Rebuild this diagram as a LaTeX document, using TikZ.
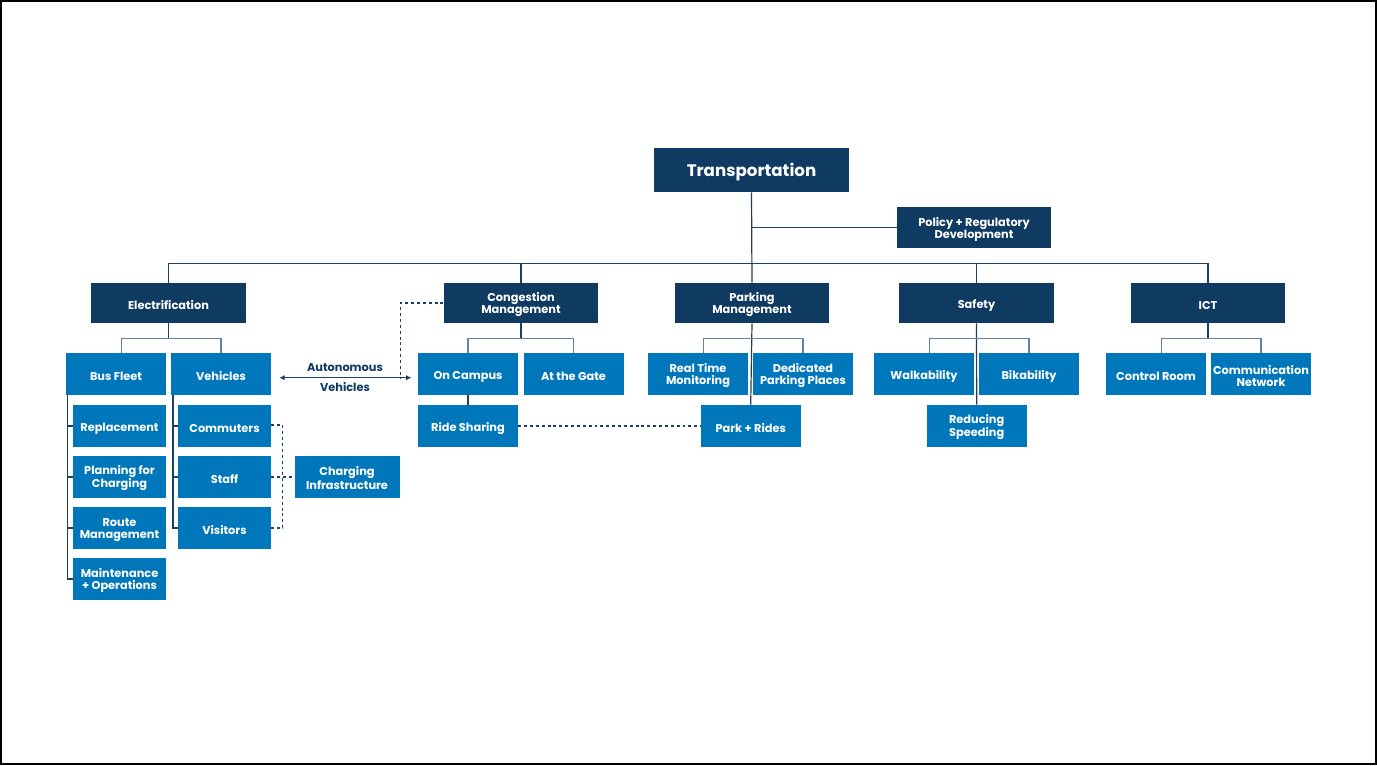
\documentclass[tikz,border=0pt]{standalone}
\usepackage{fontspec}
\setmainfont{Poppins}
\usetikzlibrary{arrows.meta}
\definecolor{navy}{HTML}{0F3A61}
\definecolor{azure}{HTML}{0077BA}
\definecolor{wire}{HTML}{1D3E66}
\definecolor{lightwire}{HTML}{6283A6}
\tikzset{
  head/.style={fill=navy, text=white, font=\fontsize{8.5}{9}\selectfont\bfseries, align=center,
    inner sep=0pt, minimum width=116pt, minimum height=30pt,
    execute at begin node={\rule{0pt}{10pt}}},
  leaf/.style={fill=azure, text=white, font=\fontsize{8.5}{9}\selectfont\bfseries, align=center,
    inner sep=0pt, minimum width=75pt, minimum height=31.5pt,
    execute at begin node={\rule{0pt}{10pt}}},
  twoline/.style={execute at begin node={}, text height=18.3pt},
  subleaf/.style={leaf, minimum width=70pt, minimum height=31pt},
  wirebox/.style={draw=wire, line width=0.9pt},
  elbow/.style={draw=lightwire, line width=0.9pt},
  dashwire/.style={draw=wire, line width=0.8pt, dash pattern=on 2.2pt off 2.2pt}
}
\begin{document}
\begin{tikzpicture}[x=0.75pt, y=-0.75pt]
    \useasboundingbox (0,0) rectangle (1377,765);
    \draw[line width=1.5pt] (1,1) rectangle (1376,764);
    % top
    \node[head, minimum width=146pt, minimum height=33pt, font=\fontsize{12.5}{14}\selectfont\bfseries,
      execute at begin node={\rule{0pt}{13.8pt}}] (trans) at (751.5,170) {Transportation};
    \node[head, twoline, minimum width=115.5pt, minimum height=30.75pt] (pol) at (974,227.5) {Policy + Regulatory\\Development};
    % level 1
    \node[head] (elec) at (168.5,303) {Electrification};
    \node[head, twoline] (cong) at (521,303) {Congestion\\Management};
    \node[head, twoline] (park) at (752,303) {Parking\\Management};
    \node[head] (safe) at (976.5,303) {Safety};
    \node[head] (ict) at (1208,303) {ICT};
    % level 2
    \node[leaf] (bus) at (116,374) {Bus Fleet};
    \node[leaf] (veh) at (221,374) {Vehicles};
    \node[leaf] (camp) at (468,374) {On Campus};
    \node[leaf] (gate) at (573.5,374) {At the Gate};
    \node[leaf, twoline] (rtm) at (698,374) {Real Time\\Monitoring};
    \node[leaf, twoline] (ded) at (803,374) {Dedicated\\Parking Places};
    \node[leaf] (walk) at (924,374) {Walkability};
    \node[leaf] (bike) at (1029,374) {Bikability};
    \node[leaf] (ctrl) at (1156,374) {Control Room};
    \node[leaf, twoline] (comm) at (1261,374) {Communication\\Network};
    % level 3
    \node[subleaf] (rep) at (119.5,426) {Replacement};
    \node[subleaf, twoline] (plan) at (119.5,477) {Planning for\\Charging};
    \node[subleaf, twoline] (route) at (119.5,528) {Route\\Management};
    \node[subleaf, twoline] (mnt) at (119.5,579) {Maintenance\\+ Operations};
    \node[subleaf] (cmt) at (224.5,426) {Commuters};
    \node[subleaf] (staff) at (224.5,477) {Staff};
    \node[subleaf] (vis) at (224.5,528) {Visitors};
    \node[leaf, twoline, minimum width=78.75pt] (chg) at (347,477) {Charging\\Infrastructure};
    \node[leaf] (ride) at (468,426) {Ride Sharing};
    \node[leaf] (pnr) at (750.7,426) {Park + Rides};
    \node[leaf, twoline] (spd) at (976.7,426) {Reducing\\Speeding};
    \node[text=navy, font=\fontsize{8.5}{9}\selectfont\bfseries] (auto1) at (345,368) {Autonomous};
    \node[text=navy, font=\fontsize{8.5}{9}\selectfont\bfseries] (auto2) at (345,387) {Vehicles};
    \coordinate (av) at (400.7,377.7);
    % connectors
    \draw[wirebox] (trans.south) -- (park.north);
    \draw[wirebox] (trans.south |- pol.west) -- (pol.west);
    \draw[wirebox] (elec.north) -- ++(0,-19) -| (ict.north);
    \draw[wirebox] (cong.north) -- ++(0,-19);
    \draw[wirebox] (safe.north) -- ++(0,-19);
    \draw[wirebox] (elec.south) -- ++(0,16);
    \draw[wirebox] (cong.south) -- ++(0,16);
    \draw[wirebox] (ict.south) -- ++(0,16);
    \draw[wirebox] (park.south) -- (pnr.north);
    \draw[wirebox] (safe.south) -- (spd.north);
    \draw[elbow] ([shift={(5.5,0)}]bus.north) -- ++(0,-14) -| (veh.north);
    \draw[elbow] (camp.north) -- ++(0,-14) -| (gate.north);
    \draw[elbow] ([shift={(5.5,0)}]rtm.north) -- ++(0,-14) -| (ded.north);
    \draw[elbow] ([shift={(5.5,0)}]walk.north) -- ++(0,-14) -| (bike.north);
    \draw[elbow] ([shift={(5.5,0)}]ctrl.north) -- ++(0,-14) -| (comm.north);
    \draw[wirebox] (camp.south) -- (ride.north);
    \draw[wirebox] ([shift={(1.8,0)}]bus.south west) |- (mnt.west);
    \draw[wirebox] ([shift={(1.8,0)}]bus.south west |- rep.west) -- (rep.west);
    \draw[wirebox] ([shift={(1.8,0)}]bus.south west |- plan.west) -- (plan.west);
    \draw[wirebox] ([shift={(1.8,0)}]bus.south west |- route.west) -- (route.west);
    \draw[wirebox] ([shift={(2.3,0)}]veh.south west) |- (vis.west);
    \draw[wirebox] ([shift={(2.3,0)}]veh.south west |- cmt.west) -- (cmt.west);
    \draw[wirebox] ([shift={(2.3,0)}]veh.south west |- staff.west) -- (staff.west);
    \draw[wirebox, line width=0.8pt, {Latex[length=4pt,width=4pt]}-{Latex[length=4pt,width=4pt]}] ([shift={(8,3.7)}]veh.east) -- ([shift={(-6.3,3.7)}]camp.west);
    \draw[dashwire] (cong.west) -| (av);
    \draw[dashwire] ([shift={(0,-1)}]cmt.east) -| ([shift={(11.3,0)}]vis.east) -- (vis.east);
    \draw[dashwire] (staff.east) -- (chg.west);
    \draw[dashwire] (ride.east) -- (pnr.west);
\end{tikzpicture}
\end{document}
